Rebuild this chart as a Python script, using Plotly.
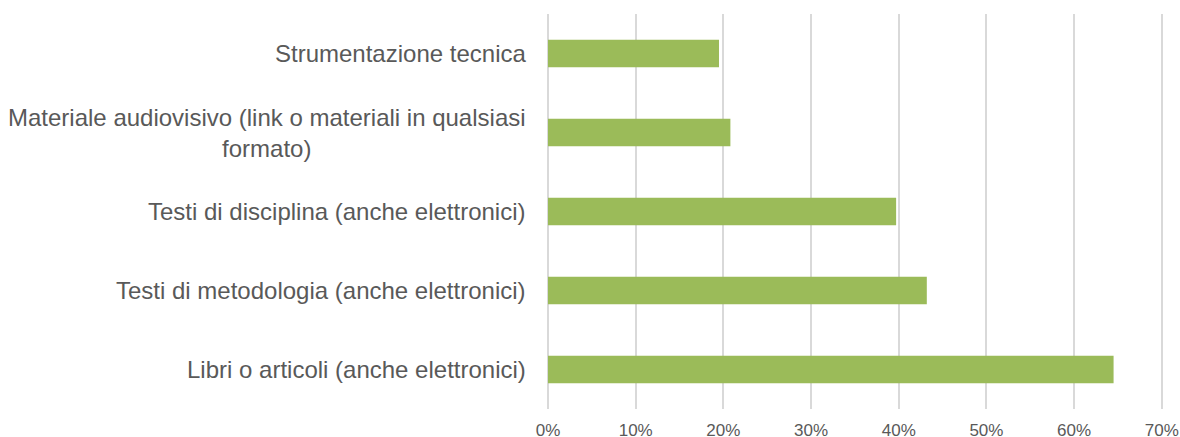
import plotly.graph_objects as go

categories = [
    "Libri o articoli (anche elettronici)",
    "Testi di metodologia (anche elettronici)",
    "Testi di disciplina (anche elettronici)",
    "Materiale audiovisivo (link o materiali in qualsiasi<br>formato)",
    "Strumentazione tecnica",
]
values = [0.645, 0.432, 0.397, 0.208, 0.195]
tick_vals = [0, 0.1, 0.2, 0.3, 0.4, 0.5, 0.6, 0.7]
tick_text = ["0%", "10%", "20%", "30%", "40%", "50%", "60%", "70%"]

fig = go.Figure()
fig.add_trace(go.Bar(
    x=values, y=categories, orientation="h",
    marker=dict(color="#9BBB59", line=dict(width=0)),
    width=0.35, hoverinfo="x+y",
))

for c in categories:
    fig.add_annotation(
        x=0, xref="paper", y=c, yref="y", text=c,
        xanchor="right", yanchor="middle", align="center", xshift=-20,
        showarrow=False,
        font=dict(family="Liberation Sans, Arial, sans-serif", size=24, color="#595959"),
    )

fig.update_layout(
    width=1180, height=437,
    margin=dict(l=548, r=16, t=14, b=28),
    paper_bgcolor="white", plot_bgcolor="white",
    showlegend=False,
    bargap=0.65,
    xaxis=dict(
        range=[0, 0.7025], tickvals=tick_vals, ticktext=tick_text,
        showgrid=True, gridcolor="#D9D9D9", gridwidth=1.5,
        zeroline=True, zerolinecolor="#D9D9D9", zerolinewidth=1.5,
        showline=False, ticks="", automargin=False,
        tickfont=dict(family="Liberation Sans, Arial, sans-serif", size=17, color="#595959"),
        ticklabelstandoff=9,
    ),
    yaxis=dict(
        categoryorder="array", categoryarray=categories, automargin=False,
        showticklabels=False, showgrid=False, zeroline=False, ticks="",
    ),
)

fig.write_html(
    "out.html",
    config={"displayModeBar": False},
    post_script="document.body.style.margin='0';document.body.style.overflow='hidden';",
)
